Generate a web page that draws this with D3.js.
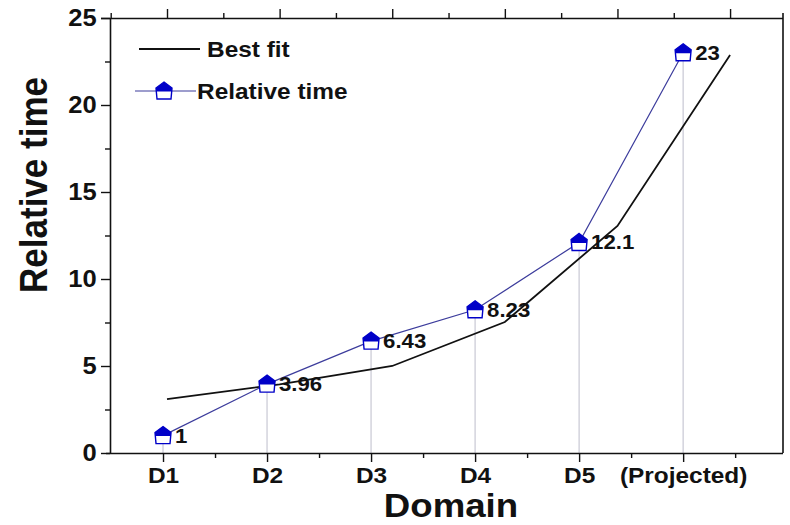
<!DOCTYPE html>
<html>
<head>
<meta charset="utf-8">
<script src="https://cdn.jsdelivr.net/npm/d3@7"></script>
<style>
  html, body { margin: 0; padding: 0; background: #fff; }
  svg { display: block; }
  text { font-family: "Liberation Sans", Arial, sans-serif; font-weight: bold; fill: #111; }
</style>
</head>
<body>
<svg id="chart" width="790" height="525"></svg>
<script>
// Categories along the domain axis
const categories = ["D1", "D2", "D3", "D4", "D5", "(Projected)"];
// Measured relative time per domain
const relativeTime = [1, 3.96, 6.43, 8.23, 12.1, 23];
// Value labels shown beside each marker
const valueLabels = ["1", "3.96", "6.43", "8.23", "12.1", "23"];
// Best-fit curve evaluated at each domain index
const bestFit = [3.1, 3.95, 5.0, 7.53, 13.05, 22.87];
// Y axis ticks
const yMajorTicks = [0, 5, 10, 15, 20, 25];
const yMinorTicks = [2.5, 7.5, 12.5, 17.5, 22.5];

const svg = d3.select("#chart");
const plotLeft = 110, plotRight = 783, plotTop = 18, plotBottom = 453;
const widen = 1.11; // horizontal widening applied to all lettering

// Bottom axis: category positions 1..6
const x = d3.scaleLinear().domain([0.5, 6.96]).range([111, plotRight]);
// Top axis used by the best-fit layer
const xFit = d3.scaleLinear().domain([0.5, 6.47]).range([110.7, plotRight]);
const y = d3.scaleLinear().domain([0, 25]).range([plotBottom, plotTop]);

const idx = categories.map((c, i) => i + 1);
const xMinor = [1.5, 2.5, 3.5, 4.5, 5.5, 6.5];
const xFitMinor = [0.5, 1.5, 2.5, 3.5, 4.5, 5.5];

// Drop lines from each marker to the baseline
svg.append("g").selectAll("line").data(relativeTime).join("line")
  .attr("x1", (d, i) => x(i + 1)).attr("x2", (d, i) => x(i + 1))
  .attr("y1", d => y(d)).attr("y2", y(0))
  .attr("stroke", "#c8c8d4").attr("stroke-width", 1.2);

// Right frame line
svg.append("line").attr("x1", plotRight).attr("x2", plotRight)
  .attr("y1", plotTop - 5).attr("y2", plotBottom)
  .attr("stroke", "#111").attr("stroke-width", 1.6);

function styleAxis(g, size) {
  g.selectAll("path").attr("stroke", "#111").attr("stroke-width", 1.6);
  g.selectAll("line").attr("stroke", "#111").attr("stroke-width", 1.4);
  g.selectAll("text").attr("fill", "#111").style("font-size", (size || 22) + "px").style("font-weight", "bold")
    .style("font-family", "'Liberation Sans', Arial, sans-serif")
    .attr("transform", `scale(${widen},1)`);
}

// Left axis
svg.append("g").attr("transform", `translate(${plotLeft},0)`)
  .call(d3.axisLeft(y).tickValues(yMinorTicks).tickSize(5).tickFormat("").tickSizeOuter(0))
  .call(styleAxis);
svg.append("g").attr("transform", `translate(${plotLeft},0)`)
  .call(d3.axisLeft(y).tickValues(yMajorTicks).tickSize(9).tickPadding(3).tickSizeOuter(0))
  .call(g => styleAxis(g, 23))
  .call(g => g.select("path").remove());

// Bottom axis
svg.append("g").attr("transform", `translate(0,${plotBottom})`)
  .call(d3.axisBottom(x).tickValues(xMinor).tickSize(5).tickFormat("").tickSizeOuter(0))
  .call(styleAxis)
  .call(g => g.select("path").attr("d", `M${plotLeft - 4},0.5H${plotRight}`));
svg.append("g").attr("transform", `translate(0,${plotBottom})`)
  .call(d3.axisBottom(x).tickValues(idx).tickSize(9).tickPadding(5)
    .tickFormat(d => categories[d - 1]).tickSizeOuter(0))
  .call(g => styleAxis(g, 22))
  .call(g => g.select("path").remove());

// Top axis (best-fit layer)
svg.append("g").attr("transform", `translate(0,${plotTop})`)
  .call(d3.axisTop(xFit).tickValues(xFitMinor).tickSize(5).tickFormat("").tickSizeOuter(0))
  .call(styleAxis)
  .call(g => g.select("path").attr("d", `M${plotLeft - 9},0.5H${plotRight}`));
svg.append("g").attr("transform", `translate(0,${plotTop})`)
  .call(d3.axisTop(xFit).tickValues(idx).tickSize(9).tickFormat("").tickSizeOuter(0))
  .call(styleAxis)
  .call(g => g.select("path").remove());

// Best-fit curve
const fitLine = d3.line().x((d, i) => xFit(i + 1)).y(d => y(d));
svg.append("path").datum(bestFit).attr("d", fitLine)
  .attr("fill", "none").attr("stroke", "#111").attr("stroke-width", 1.8);

// Relative time series
const dataLine = d3.line().x((d, i) => x(i + 1)).y(d => y(d));
svg.append("path").datum(relativeTime).attr("d", dataLine)
  .attr("fill", "none").attr("stroke", "#3c3c9c").attr("stroke-width", 1.2);

// Pentagon marker: upper half filled, lower half open
function marker(g) {
  const w = 8, hTop = 9, hSide = 3, hBot = 8;
  const pent = `M0,${-hTop}L${w},${-hSide}L${w - 1},${hBot}L${-w + 1},${hBot}L${-w},${-hSide}Z`;
  const upper = `M0,${-hTop}L${w},${-hSide}L${w - 0.2},0.5L${-w + 0.2},0.5L${-w},${-hSide}Z`;
  g.append("path").attr("d", pent).attr("fill", "#fff");
  g.append("path").attr("d", upper).attr("fill", "#0000c8");
  g.append("path").attr("d", pent).attr("fill", "none").attr("stroke", "#0000c8").attr("stroke-width", 1.4);
}

const pts = svg.append("g").selectAll("g").data(relativeTime).join("g")
  .attr("transform", (d, i) => `translate(${x(i + 1)},${y(d)})`);
pts.each(function () { marker(d3.select(this)); });

// Value labels
svg.append("g").selectAll("text").data(relativeTime).join("text")
  .attr("transform", (d, i) => `translate(${x(i + 1) + 12},${y(d) + 7}) scale(${widen},1)`)
  .style("font-size", "20px")
  .text((d, i) => valueLabels[i]);

// Axis titles
svg.append("text").attr("transform", `translate(451,517) scale(${widen},1)`).attr("text-anchor", "middle")
  .style("font-size", "33px").text("Domain");
svg.append("text").attr("transform", `translate(47,185) scale(${widen},1) rotate(-90)`).attr("text-anchor", "middle")
  .style("font-size", "35px").text("Relative time");

// Legend
const lg = svg.append("g");
lg.append("line").attr("x1", 139).attr("x2", 200).attr("y1", 49).attr("y2", 49)
  .attr("stroke", "#111").attr("stroke-width", 1.8);
lg.append("text").attr("transform", `translate(207,57) scale(${widen},1)`).style("font-size", "22px").text("Best fit");
lg.append("line").attr("x1", 135).attr("x2", 196).attr("y1", 91).attr("y2", 91)
  .attr("stroke", "#3c3c9c").attr("stroke-width", 1.2);
marker(lg.append("g").attr("transform", "translate(164,91)"));
lg.append("text").attr("transform", `translate(197,99) scale(${widen},1)`).style("font-size", "22px").text("Relative time");
</script>
</body>
</html>
